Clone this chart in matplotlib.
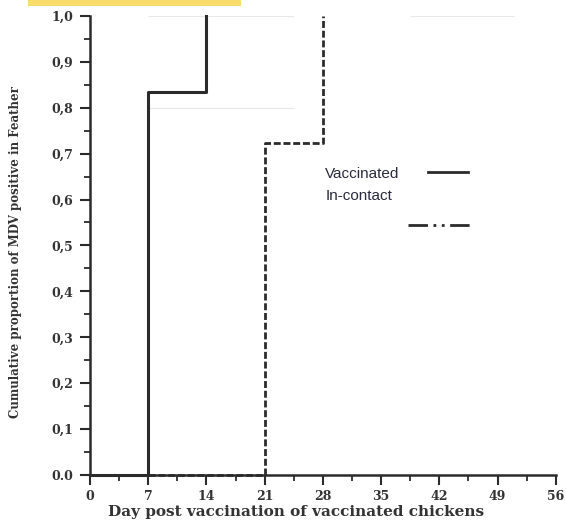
import matplotlib.pyplot as plt
from matplotlib.patches import Rectangle

# cumulative proportion of MDV positive feather samples, step at each sampling day
vacc_days = [0, 7, 14]
vacc_prop = [0.0, 0.833, 1.0]
contact_days = [0, 21, 28]
contact_prop = [0.0, 0.722, 1.0]

x_ticks = [0, 7, 14, 21, 28, 35, 42, 49, 56]
y_ticks = [0.0, 0.1, 0.2, 0.3, 0.4, 0.5, 0.6, 0.7, 0.8, 0.9, 1.0]
y_tick_labels = ['0.0', '0,1', '0,2', '0,3', '0,4', '0,5', '0,6', '0,7', '0,8', '0,9', '1,0']

serif = 'DejaVu Serif'

fig = plt.figure(figsize=(5.66, 5.25), dpi=100)
fig.patch.set_facecolor('white')
ax = fig.add_axes([0.159, 0.095, 0.823, 0.875])

# highlighter strip along the top edge
fig.patches.append(Rectangle((0.05, 0.989), 0.375, 0.02, transform=fig.transFigure,
                             facecolor='#f9dc6c', edgecolor='none'))

# faint guide lines
ax.hlines([1.0, 0.8], 7, 24.5, color='#e8e8e8', lw=0.8, zorder=0)
ax.hlines(1.0, 38.5, 51, color='#e8e8e8', lw=0.8, zorder=0)

ax.step(vacc_days, vacc_prop, where='post', color='#2b2b2b', lw=2.2,
        clip_on=False, zorder=3)
ax.step(contact_days, contact_prop, where='post', color='#2b2b2b', lw=2.0,
        linestyle=(0, (2.5, 1.0)), clip_on=False, zorder=3)

ax.set_xlim(0, 56)
ax.set_ylim(0, 1.0)
ax.set_xticks(x_ticks)
ax.set_xticks([d + 3.5 for d in x_ticks[:-1]], minor=True)
ax.set_yticks(y_ticks)
ax.set_yticklabels(y_tick_labels)
ax.set_yticks([v + 0.05 for v in y_ticks[:-1]], minor=True)

for s in ['top', 'right']:
    ax.spines[s].set_visible(False)
for s in ['left', 'bottom']:
    ax.spines[s].set_linewidth(1.8)
    ax.spines[s].set_color('#2b2b2b')

ax.tick_params(axis='both', which='major', direction='out', length=7, width=1.5,
               color='#2b2b2b', labelsize=9)
ax.tick_params(axis='both', which='minor', direction='out', length=4, width=1.3,
               color='#2b2b2b')
ax.tick_params(axis='x', pad=4)
ax.tick_params(axis='y', pad=5)
for lab in ax.get_xticklabels() + ax.get_yticklabels():
    lab.set_fontfamily(serif)
    lab.set_fontweight('bold')
    lab.set_color('#333333')

ax.set_xlabel('Day post vaccination of vaccinated chickens', family=serif,
              fontweight='bold', fontsize=11, color='#333333')
ax.xaxis.set_label_coords(0.442, -0.066)
ax.set_ylabel('Cumulative proportion of MDV positive in Feather', family=serif,
              fontweight='bold', fontsize=8.5, color='#333333')
ax.yaxis.set_label_coords(-0.145, 0.486)

# hand-placed key
ax.text(0.505, 0.655, 'Vaccinated', transform=ax.transAxes, family='Liberation Sans',
        fontsize=11, color='#2a2a3e', va='center')
ax.text(0.505, 0.607, 'In-contact', transform=ax.transAxes, family='Liberation Sans',
        fontsize=11, color='#2a2a3e', va='center')
ax.plot([0.725, 0.812], [0.659, 0.659], transform=ax.transAxes, color='#2b2b2b', lw=2)
ax.plot([0.683, 0.825], [0.545, 0.545], transform=ax.transAxes, color='#2b2b2b', lw=2,
        linestyle=(0, (7, 2, 1, 2, 1, 2)))

fig.savefig('out.png', dpi=100)
